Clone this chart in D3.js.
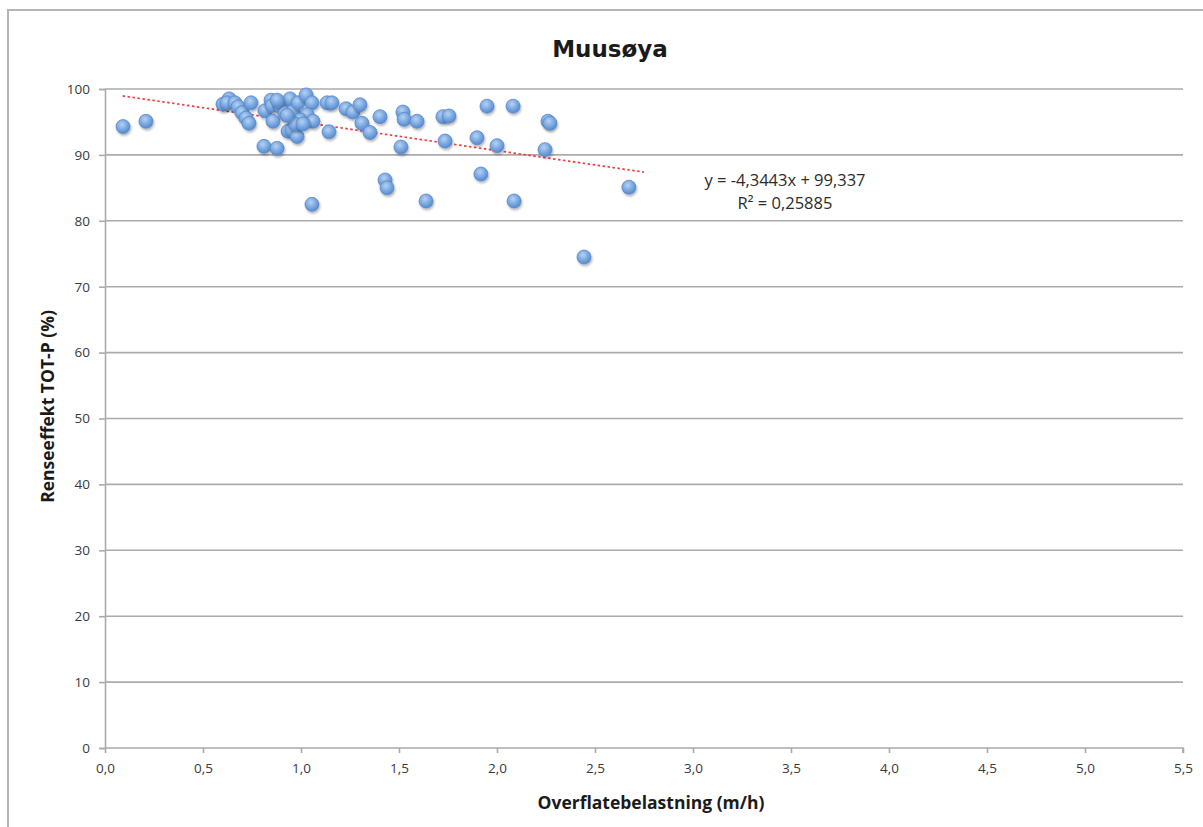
<!DOCTYPE html>
<html>
<head>
<meta charset="utf-8">
<script src="https://cdn.jsdelivr.net/npm/d3@7"></script>
<style>
  html, body { margin: 0; padding: 0; background: #fff; }
  svg { display: block; }
</style>
</head>
<body>
<script>
// Overflatebelastning (m/h) for each measurement
const loadX = [
  0.092, 0.209, 0.602, 0.633, 0.622, 0.663, 0.679, 0.699, 0.719, 0.735,
  0.745, 0.811, 0.878, 0.816, 0.847, 0.852, 0.893, 0.857, 0.918, 0.944,
  0.959, 0.985, 1.026, 1.056, 0.934, 0.954, 0.980, 1.031, 1.061, 1.133,
  1.158, 1.143, 1.230, 0.995, 0.969, 1.010, 0.929, 0.878, 1.265, 1.301,
  1.311, 1.352, 1.403, 1.520, 1.526, 1.592, 1.724, 1.755, 1.949, 2.082,
  2.260, 2.270, 1.510, 1.735, 1.898, 2.000, 2.245, 1.429, 1.439, 1.638,
  1.918, 2.087, 1.056, 2.673, 2.444
];
// Renseeffekt TOT-P (%) for each measurement
const removalY = [
  94.3, 95.1, 97.7, 98.5, 97.9, 97.9, 97.3, 96.4, 95.6, 94.8,
  97.9, 91.3, 91.0, 96.7, 98.3, 97.5, 97.4, 95.1, 96.4, 98.5,
  96.6, 97.9, 99.1, 97.9, 93.6, 93.8, 92.8, 96.1, 95.1, 97.9,
  97.9, 93.5, 97.0, 95.3, 94.7, 94.7, 96.0, 98.3, 96.5, 97.6,
  94.8, 93.4, 95.8, 96.5, 95.4, 95.1, 95.8, 95.9, 97.4, 97.4,
  95.1, 94.8, 91.2, 92.1, 92.6, 91.4, 90.8, 86.2, 85.0, 83.0,
  87.1, 83.0, 82.5, 85.1, 74.5
];

// Linear trendline (least squares, as reported)
const trendSlope = -4.3443;
const trendIntercept = 99.337;
const trendRange = [0.09, 2.75];
const trendLabels = ["y = -4,3443x + 99,337", "R² = 0,25885"];

const xTicks = [0, 0.5, 1, 1.5, 2, 2.5, 3, 3.5, 4, 4.5, 5, 5.5];
const yTicks = [0, 10, 20, 30, 40, 50, 60, 70, 80, 90, 100];

const chartTitle = "Muusøya";
const xTitle = "Overflatebelastning (m/h)";
const yTitle = "Renseeffekt TOT-P (%)";

const W = 1203, H = 827;
const plot = { left: 105, right: 1183, top: 89, bottom: 748 };
const gridColor = "#ababab";
const textColor = "#3a3a3a";
const font = "'Open Sans', 'Liberation Sans', sans-serif";

const svg = d3.select("body").append("svg")
  .attr("width", W).attr("height", H)
  .style("font-family", font);

// marker gradient and soft shadow
const defs = svg.append("defs");
const grad = defs.append("radialGradient")
  .attr("id", "dot").attr("cx", "42%").attr("cy", "35%").attr("r", "68%");
grad.append("stop").attr("offset", "0%").attr("stop-color", "#b6d2f2");
grad.append("stop").attr("offset", "55%").attr("stop-color", "#79a8e2");
grad.append("stop").attr("offset", "100%").attr("stop-color", "#5386c9");
const shadow = defs.append("filter").attr("id", "shadow")
  .attr("x", "-50%").attr("y", "-50%").attr("width", "200%").attr("height", "200%");
shadow.append("feDropShadow")
  .attr("dx", 1).attr("dy", 2).attr("stdDeviation", 1.3)
  .attr("flood-color", "#000").attr("flood-opacity", 0.28);

// outer chart frame (runs off the right and bottom edge)
svg.append("rect")
  .attr("x", 8).attr("y", 10).attr("width", W + 20).attr("height", H + 20)
  .attr("fill", "none").attr("stroke", "#b5b5b5").attr("stroke-width", 2);

const x = d3.scaleLinear().domain([0, 5.5]).range([plot.left, plot.right]);
const y = d3.scaleLinear().domain([0, 100]).range([plot.bottom, plot.top]);

// horizontal gridlines
svg.append("g")
  .selectAll("line").data(yTicks.filter(d => d > 0)).join("line")
  .attr("x1", plot.left).attr("x2", plot.right)
  .attr("y1", d => y(d)).attr("y2", d => y(d))
  .attr("stroke", gridColor).attr("stroke-width", 1.6);

// y axis
const yAxis = svg.append("g")
  .attr("transform", `translate(${plot.left},0)`)
  .call(d3.axisLeft(y).tickValues(yTicks).tickSize(6).tickPadding(9).tickFormat(d3.format("d")));
// x axis
const xAxis = svg.append("g")
  .attr("transform", `translate(0,${plot.bottom})`)
  .call(d3.axisBottom(x).tickValues(xTicks).tickSize(5).tickPadding(10)
    .tickFormat(d => d3.format(".1f")(d).replace(".", ",")));

[yAxis, xAxis].forEach(g => {
  g.select(".domain").attr("stroke", gridColor).attr("stroke-width", 1.6);
  g.selectAll(".tick line").attr("stroke", gridColor).attr("stroke-width", 1.6);
  g.selectAll(".tick text")
    .attr("fill", textColor).style("font-size", "13.5px").style("font-family", font);
});
xAxis.select(".domain").attr("d", `M${plot.left},0H${plot.right}V5`);

// trendline
svg.append("line")
  .attr("x1", x(trendRange[0])).attr("y1", y(trendIntercept + trendSlope * trendRange[0]))
  .attr("x2", x(trendRange[1])).attr("y2", y(trendIntercept + trendSlope * trendRange[1]))
  .attr("stroke", "#f03c3c").attr("stroke-width", 1.7)
  .attr("stroke-dasharray", "2.5,2.5");

// measurement points
const points = loadX.map((v, i) => ({ x: v, y: removalY[i] }));
svg.append("g")
  .selectAll("circle").data(points).join("circle")
  .attr("cx", d => x(d.x)).attr("cy", d => y(d.y)).attr("r", 7)
  .attr("fill", "url(#dot)").attr("stroke", "#5a88c6").attr("stroke-width", 0.8)
  .attr("filter", "url(#shadow)");

// trendline equation
svg.append("g").selectAll("text").data(trendLabels).join("text")
  .attr("x", 785).attr("y", (d, i) => 186 + i * 23)
  .attr("text-anchor", "middle")
  .attr("fill", "#2b2b2b").style("font-size", "16.5px")
  .text(d => d);

// titles
svg.append("text")
  .attr("x", 610).attr("y", 57).attr("text-anchor", "middle")
  .attr("fill", "#1a1a1a").style("font-size", "23px").style("font-weight", "bold")
  .style("font-family", "'DejaVu Sans', sans-serif")
  .text(chartTitle);
svg.append("text")
  .attr("x", 651).attr("y", 809).attr("text-anchor", "middle")
  .attr("fill", "#1a1a1a").style("font-size", "17.5px").style("font-weight", "bold")
  .text(xTitle);
svg.append("text")
  .attr("transform", `translate(54,${(plot.top + plot.bottom) / 2 - 12}) rotate(-90)`)
  .attr("text-anchor", "middle")
  .attr("fill", "#1a1a1a").style("font-size", "17.5px").style("font-weight", "bold")
  .text(yTitle);
</script>
</body>
</html>
